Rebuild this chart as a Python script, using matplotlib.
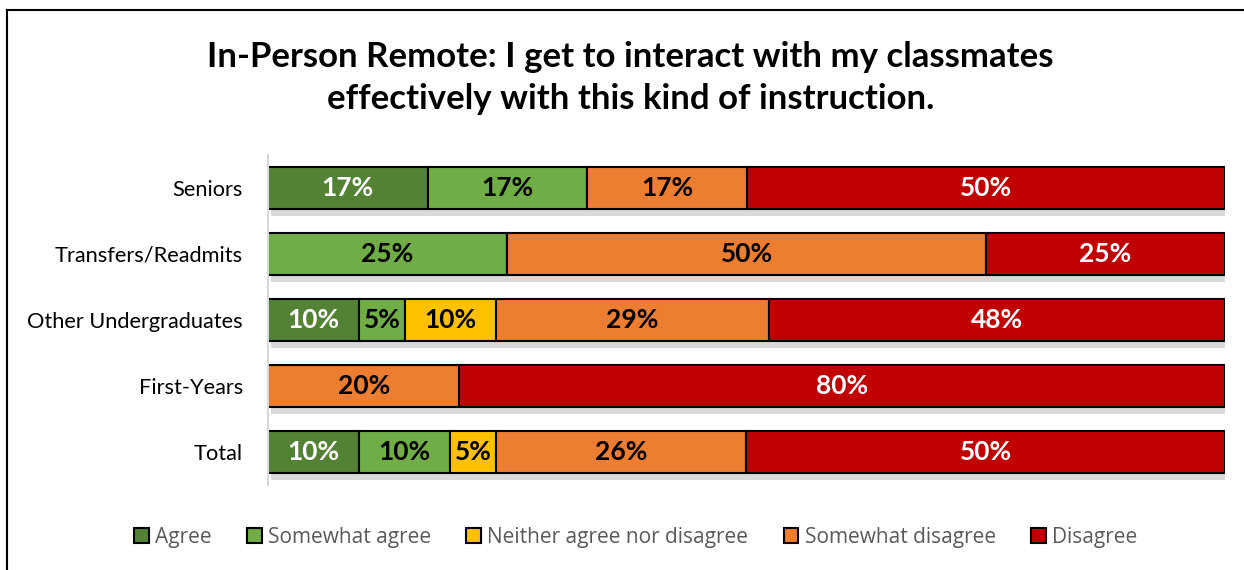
import matplotlib
matplotlib.use("Agg")
import matplotlib.pyplot as plt
import matplotlib.patheffects as pe
from matplotlib.lines import Line2D
import numpy as np

# data (percent of respondents, bottom row first)
groups = ["Total", "First-Years", "Other Undergraduates", "Transfers/Readmits", "Seniors"]
responses = ["Agree", "Somewhat agree", "Neither agree nor disagree",
             "Somewhat disagree", "Disagree"]
agree = [9.52, 0, 9.52, 0, 16.67]
somewhat_agree = [9.52, 0, 4.76, 25, 16.67]
neither = [4.76, 0, 9.52, 0, 0]
somewhat_disagree = [26.19, 20, 28.57, 50, 16.67]
disagree = [50, 80, 47.62, 25, 50]

colors = ["#548235", "#70AD47", "#FFC000", "#ED7D31", "#C00000"]
text_colors = ["white", "black", "black", "black", "white"]

plt.rcParams['font.family'] = ['Lato', 'DejaVu Sans']

fig = plt.figure(figsize=(12.44, 5.70), dpi=100)
ax = fig.add_axes([268 / 1244, 1 - 485 / 570, 957 / 1244, 330 / 570])

y = np.arange(len(groups))
left = np.zeros(len(groups))
series = [agree, somewhat_agree, neither, somewhat_disagree, disagree]
shadow = [pe.SimplePatchShadow(offset=(2, -5), shadow_rgbFace="#a0a0a0", alpha=0.4),
          pe.Normal()]
for vals, col, tcol, name in zip(series, colors, text_colors, responses):
    vals = np.array(vals, dtype=float)
    bars = ax.barh(y, vals, left=left, height=0.64, color=col,
                   edgecolor="black", linewidth=1.5, label=name)
    for b, v in zip(bars, vals):
        if v > 0:
            b.set_path_effects(shadow)
            ax.text(b.get_x() + v / 2, b.get_y() + b.get_height() / 2,
                    f"{round(v)}%", ha="center", va="center",
                    color=tcol, fontsize=19, fontweight="bold")
    left += vals

ax.set_xlim(0, 100)
ax.set_ylim(-0.5, len(groups) - 0.5)
ax.set_yticks(y)
ax.set_yticklabels(groups, fontsize=15.7)
ax.set_xticks([])
ax.tick_params(axis="y", length=0, pad=18)
for s in ["top", "right", "bottom"]:
    ax.spines[s].set_visible(False)
ax.spines["left"].set_color("#d9d9d9")
ax.spines["left"].set_linewidth(1.5)

fig.text(0.507, 1 - 78 / 570,
         "In-Person Remote: I get to interact with my classmates\n"
         "effectively with this kind of instruction.",
         ha="center", va="center", fontsize=25, fontweight="bold",
         linespacing=1.4)

handles = [plt.Rectangle((0, 0), 1, 1, facecolor=c, edgecolor="black", linewidth=1.5)
           for c in colors]
leg = fig.legend(handles, responses, loc="center", ncol=5,
                 bbox_to_anchor=(0.511, 1 - 537 / 570), frameon=False,
                 handlelength=0.7, handleheight=0.7, handletextpad=0.3,
                 columnspacing=1.7, prop={"family": "Open Sans", "size": 15})
for t in leg.get_texts():
    t.set_color("#595959")

# chart frame (left and top edges)
fig.add_artist(Line2D([7 / 1244, 7 / 1244], [0, 1 - 10 / 570],
                      transform=fig.transFigure, color="black", linewidth=1.5))
fig.add_artist(Line2D([7 / 1244, 1], [1 - 10 / 570, 1 - 10 / 570],
                      transform=fig.transFigure, color="black", linewidth=1.5))

fig.savefig("out.png", dpi=100)
